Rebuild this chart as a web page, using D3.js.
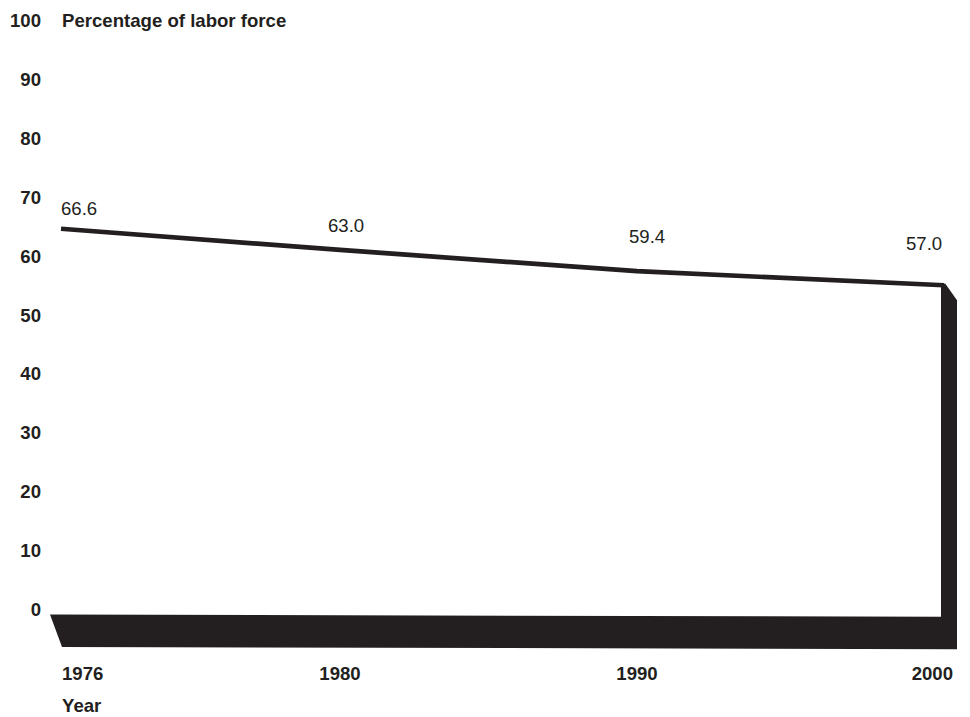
<!DOCTYPE html>
<html>
<head>
<meta charset="utf-8">
<script src="https://cdn.jsdelivr.net/npm/d3@7"></script>
<style>
  html, body { margin: 0; padding: 0; background: #fff; }
  svg { display: block; font-family: "Liberation Sans", Arial, Helvetica, sans-serif; }
</style>
</head>
<body>
<svg id="chart" width="970" height="717"></svg>
<script>
// Share of the labor force, selected years
const years = ["1976", "1980", "1990", "2000"];
const shares = [66.6, 63.0, 59.4, 57.0];
const yTicks = [0, 10, 20, 30, 40, 50, 60, 70, 80, 90, 100];
const yTitle = "Percentage of labor force";
const xTitle = "Year";

const ink = "#231f20";
const fontSize = 18.6;
const svg = d3.select("#chart");

// Years are spaced as categories, not on a linear time axis
const x = d3.scaleOrdinal().domain(years).range([61, 340, 637, 944]);
const y = d3.scaleLinear().domain([0, 100]).range([614, 25]);

// The front edge of the solid sits a little in front of the back plane
const faceDrop = 7;
const depth = { dx: 13, dy: 33 };
const floorTilt = 2.2;

const pts = years.map((yr, i) => [x(yr), y(shares[i]) + faceDrop]);
const first = pts[0], last = pts[pts.length - 1];

// Solid floor and right-hand side wall of the block
const base = y(0);
const wallX = last[0] - 3;
const solid = [
  [first[0] - 11, base + 0.5],
  [wallX, base + floorTilt + 0.5],
  [wallX, last[1] + 2],
  [last[0] + 1, last[1] - 2],
  [last[0] + depth.dx, last[1] + 15],
  [last[0] + depth.dx, base + floorTilt + depth.dy],
  [first[0] + 1, base + depth.dy],
];
svg.append("path")
  .attr("d", d3.line()(solid) + "Z")
  .attr("fill", ink);

// Top edge of the series
svg.append("path")
  .datum(pts)
  .attr("d", d3.line())
  .attr("fill", "none")
  .attr("stroke", ink)
  .attr("stroke-width", 4.7)
  .attr("stroke-linejoin", "miter");

// Value labels above the line
const labelNudge = [[0, -14], [-12, -18], [-8, -28], [-38, -35]];
svg.append("g")
  .selectAll("text")
  .data(shares)
  .join("text")
  .attr("x", (d, i) => x(years[i]) + labelNudge[i][0])
  .attr("y", (d, i) => y(d) + faceDrop + labelNudge[i][1])
  .attr("font-size", fontSize)
  .attr("fill", ink)
  .text(d => d.toFixed(1));

// Vertical axis labels
svg.append("g")
  .selectAll("text")
  .data(yTicks)
  .join("text")
  .attr("x", 41)
  .attr("y", d => y(d) + 2)
  .attr("text-anchor", "end")
  .attr("font-size", fontSize)
  .attr("font-weight", "bold")
  .attr("fill", ink)
  .text(d => d);

svg.append("text")
  .attr("x", 62)
  .attr("y", y(100) + 2)
  .attr("font-size", fontSize)
  .attr("font-weight", "bold")
  .attr("fill", ink)
  .text(yTitle);

// Horizontal axis labels
const anchorFor = i => i === 0 ? "start" : (i === years.length - 1 ? "end" : "middle");
const dxFor = i => i === 0 ? 1 : (i === years.length - 1 ? 9 : 0);
svg.append("g")
  .selectAll("text")
  .data(years)
  .join("text")
  .attr("x", (d, i) => x(d) + dxFor(i))
  .attr("y", 680)
  .attr("text-anchor", (d, i) => anchorFor(i))
  .attr("font-size", fontSize)
  .attr("font-weight", "bold")
  .attr("fill", ink)
  .text(d => d);

svg.append("text")
  .attr("x", 62)
  .attr("y", 712)
  .attr("font-size", fontSize)
  .attr("font-weight", "bold")
  .attr("fill", ink)
  .text(xTitle);
</script>
</body>
</html>
